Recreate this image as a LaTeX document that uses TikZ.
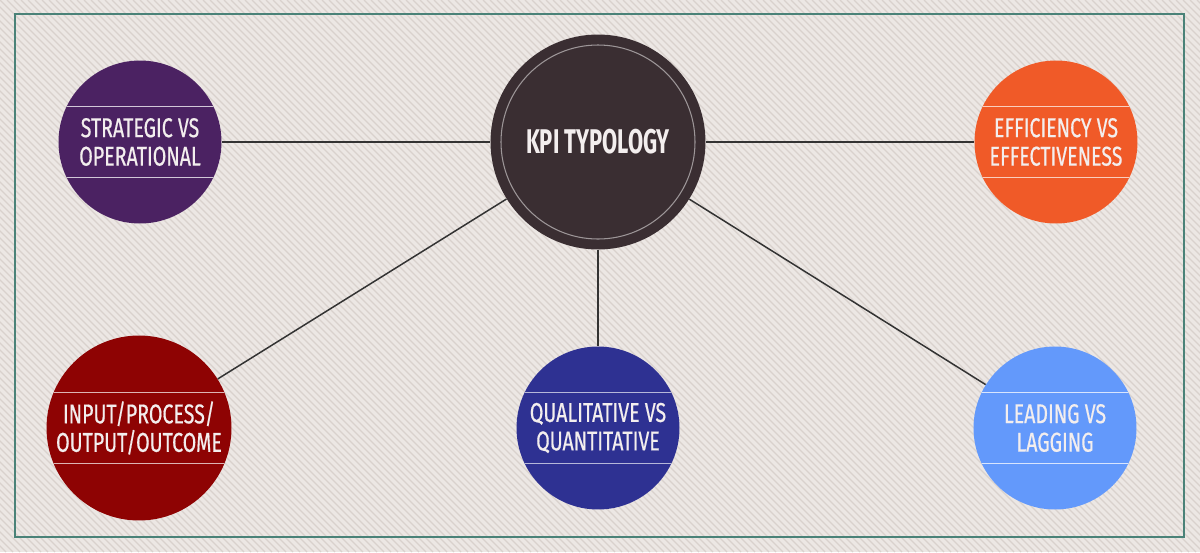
\documentclass[tikz,border=0pt]{standalone}
\usepackage{fontspec}
\usepackage{tikz}
\newfontfamily\bubblefont[FakeStretch=0.72, FakeBold=0.5]{Fira Sans}
\newfontfamily\hubfont[FakeStretch=0.64]{Fira Sans Bold}
\definecolor{paper}{HTML}{ECE7E4}
\definecolor{stripe}{HTML}{D9D1CD}
\definecolor{frame}{HTML}{4A8278}
\definecolor{hub}{HTML}{3A2E32}
\definecolor{purp}{HTML}{4B2262}
\definecolor{orng}{HTML}{F05A28}
\definecolor{crim}{HTML}{8E0303}
\definecolor{navy}{HTML}{2E3192}
\definecolor{sky}{HTML}{6399FB}
\definecolor{ink}{HTML}{F3EEEE}

\begin{document}
\begin{tikzpicture}[x=0.02cm, y=-0.02cm,
	bubble/.style 2 args={circle, fill=#1, inner sep=0pt, minimum size=3.26cm,
		text=ink, align=center, font=\bubblefont\fontsize{15.5}{16.2}\selectfont,
		path picture={
			\draw[#2, line width=1.1pt] ([yshift=0.71cm]path picture bounding box.west) -- ([yshift=0.71cm]path picture bounding box.east);
			\draw[#2, line width=1.1pt] ([yshift=-0.71cm]path picture bounding box.west) -- ([yshift=-0.71cm]path picture bounding box.east);
		}},
	link/.style={draw=black!80, line width=0.85pt}]
			\useasboundingbox (0,0) rectangle (1200,552);
			\fill[paper] (0,0) rectangle (1200,552);
			\begin{scope}
				\clip (0,0) rectangle (1200,552);
				\foreach \i in {-560,-553,...,1200}
					\draw[stripe, line width=0.7pt] (\i,0) -- (\i+552,552);
			\end{scope}
			\draw[frame, line width=1.1pt] (15,14) rectangle (1184,537);
			% hub
			\node[circle, fill=hub, inner sep=0pt, minimum size=4.3cm, text=ink,
				font=\hubfont\fontsize{19.5}{20}\selectfont] (hub) at (598,142) {KPI TYPOLOGY};
			\draw[hub!50!white, line width=0.6pt] (hub.center) circle (97);
			% satellites
			\node[bubble={purp}{purp!25!white}] (strat) at (140,142) {STRATEGIC VS\\OPERATIONAL};
			\node[bubble={orng}{orng!30!white}] (effic) at (1056,142) {EFFICIENCY VS\\EFFECTIVENESS};
			\node[bubble={crim}{crim!30!white}, minimum size=3.7cm] (input) at (139,428) {INPUT/PROCESS/\\OUTPUT/OUTCOME};
			\node[bubble={navy}{navy!35!white}] (quali) at (598,428) {QUALITATIVE VS\\QUANTITATIVE};
			\node[bubble={sky}{sky!25!white}] (lead) at (1055,428) {LEADING VS\\LAGGING};
			% links
			\draw[link] (hub) -- (strat);
			\draw[link] (hub) -- (effic);
			\draw[link] (hub) -- (input);
			\draw[link] (hub) -- (quali);
			\draw[link] (hub) -- (lead);
		\end{tikzpicture}
\end{document}
